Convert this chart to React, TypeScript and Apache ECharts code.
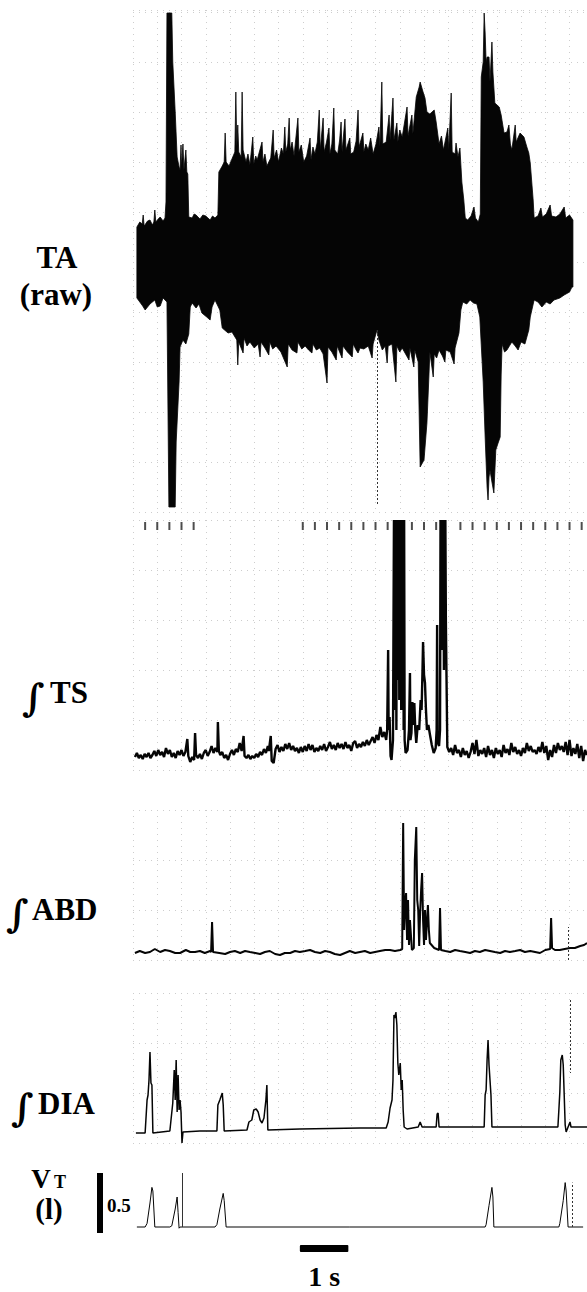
import React, { useEffect, useRef } from "react";
import * as echarts from "echarts";

// ---- time axis (seconds) ----
const T_MAX = 9.36;

// ---- TA raw EMG: upper / lower envelope (a.u., 0 = trace centre) ----
const taUpper: [number, number][] = [
  [0.08, 0], [0.08, 35], [0.14, 40], [0.19, 38], [0.21, 47], [0.23, 36], [0.3, 41], [0.35, 42], [0.4, 37], [0.43, 40], [0.45, 52], [0.47, 40], [0.52, 43], [0.56, 45], [0.62, 41], [0.66, 44],
  [0.68, 60], [0.7, 249], [0.8, 249], [0.82, 200], [0.87, 150], [0.91, 105], [0.95, 95], [0.97, 92],
  [0.99, 117], [1.0, 95], [1.03, 118], [1.05, 92], [1.09, 112], [1.11, 90], [1.13, 88], [1.15, 45],
  [1.22, 44], [1.26, 48], [1.3, 47], [1.38, 43], [1.44, 47], [1.5, 46], [1.59, 42], [1.64, 46], [1.69, 44], [1.75, 47], [1.77, 90],
  [1.84, 96], [1.88, 100], [1.9, 129], [1.92, 100], [1.98, 96], [2.04, 103], [2.1, 110], [2.12, 170], [2.14, 115], [2.16, 137], [2.18, 110], [2.23, 105], [2.25, 170], [2.27, 112], [2.33, 100], [2.37, 108], [2.41, 97], [2.47, 125], [2.49, 98], [2.53, 106], [2.56, 102], [2.66, 120], [2.68, 100], [2.72, 108], [2.76, 96], [2.84, 104], [2.89, 132], [2.91, 104], [2.96, 112], [3.0, 100], [3.06, 114], [3.1, 108], [3.13, 135], [3.15, 110], [3.19, 118], [3.22, 144], [3.24, 112], [3.28, 120], [3.32, 106], [3.4, 144], [3.42, 110], [3.47, 117], [3.52, 100], [3.58, 106], [3.65, 124], [3.67, 102], [3.71, 115], [3.75, 108], [3.8, 120], [3.84, 152], [3.86, 112], [3.92, 144], [3.94, 110], [3.99, 120], [4.04, 134], [4.06, 108], [4.1, 118], [4.14, 154], [4.16, 112], [4.22, 108], [4.26, 122], [4.29, 140], [4.31, 110], [4.37, 143], [4.39, 112], [4.43, 118], [4.47, 124], [4.49, 108], [4.55, 110], [4.6, 121], [4.64, 152], [4.66, 115], [4.7, 122], [4.74, 129], [4.76, 110], [4.8, 118], [4.85, 112], [4.9, 124], [4.95, 108], [5.01, 118], [5.07, 135], [5.09, 115], [5.13, 180], [5.15, 118], [5.22, 120], [5.28, 147], [5.3, 122], [5.36, 164], [5.38, 122], [5.44, 139], [5.46, 120], [5.5, 132], [5.55, 125], [5.65, 155], [5.67, 126], [5.75, 147], [5.77, 128], [5.84, 165], [5.9, 175], [5.92, 180], [5.98, 170], [6.02, 164], [6.06, 150], [6.12, 148], [6.21, 152], [6.25, 140], [6.31, 118], [6.36, 126], [6.4, 112], [6.49, 134], [6.51, 112], [6.56, 169], [6.58, 110], [6.64, 108], [6.66, 119], [6.7, 105], [6.74, 114], [6.78, 80], [6.82, 62], [6.85, 44], [6.9, 42], [6.97, 46], [7.03, 55], [7.06, 44], [7.12, 40], [7.16, 48],
  [7.18, 185], [7.22, 200], [7.24, 249], [7.26, 229], [7.28, 200], [7.3, 205], [7.34, 205], [7.36, 180], [7.4, 220], [7.42, 190], [7.46, 159], [7.55, 155], [7.59, 147], [7.65, 129], [7.71, 130], [7.75, 137], [7.78, 118], [7.81, 112], [7.88, 137], [7.9, 120], [7.98, 129], [8.06, 125], [8.12, 115], [8.16, 109], [8.19, 99], [8.25, 62], [8.27, 44],
  [8.35, 46], [8.41, 54], [8.44, 45], [8.52, 48], [8.6, 57], [8.63, 46], [8.72, 45], [8.8, 48], [8.89, 55], [8.92, 44], [9.0, 47], [9.07, 42], [9.07, 0],
];
const taLower: [number, number][] = [
  [0.08, 0], [0.08, -36], [0.14, -40], [0.2, -44], [0.25, -48], [0.35, -42], [0.45, -38], [0.5, -45], [0.56, -44], [0.62, -36], [0.7, -40],
  [0.74, -245], [0.87, -245], [0.89, -180], [0.95, -120], [0.97, -85], [1.03, -78], [1.09, -82], [1.15, -72], [1.18, -45],
  [1.22, -41], [1.3, -46], [1.36, -42], [1.42, -51], [1.52, -55], [1.59, -58], [1.63, -45], [1.69, -38], [1.75, -44], [1.79, -48],
  [1.84, -66], [1.96, -71], [2.04, -70], [2.14, -78], [2.16, -103], [2.18, -80], [2.27, -91], [2.29, -76], [2.35, -84], [2.41, -80], [2.5, -86], [2.58, -82], [2.62, -95], [2.64, -80], [2.72, -86], [2.8, -93], [2.82, -80], [2.88, -87], [2.95, -84], [3.05, -90], [3.18, -105], [3.2, -82], [3.28, -88], [3.38, -91], [3.4, -80], [3.48, -87], [3.55, -84], [3.62, -88], [3.69, -91], [3.71, -82], [3.78, -88], [3.85, -86], [3.92, -92], [4.0, -121], [4.02, -85], [4.1, -90], [4.19, -98], [4.21, -84], [4.26, -90], [4.31, -96], [4.33, -84], [4.42, -90], [4.52, -95], [4.54, -82], [4.6, -88], [4.64, -91], [4.68, -86], [4.76, -87], [4.85, -84], [4.93, -96], [4.95, -82], [5.03, -68], [5.07, -78], [5.14, -88], [5.2, -84], [5.24, -101], [5.26, -84], [5.34, -82], [5.42, -120], [5.44, -84], [5.5, -90], [5.55, -86], [5.62, -92], [5.69, -98], [5.71, -86], [5.79, -105], [5.81, -88], [5.88, -100],
  [5.92, -205], [6.0, -198], [6.06, -161], [6.1, -115], [6.12, -90], [6.19, -115], [6.21, -92], [6.26, -96], [6.31, -88], [6.38, -94], [6.43, -100], [6.45, -88], [6.54, -90], [6.62, -102], [6.64, -86], [6.72, -71], [6.76, -48], [6.8, -40], [6.88, -42], [6.95, -38], [7.02, -41], [7.09, -42], [7.15, -55],
  [7.22, -120], [7.26, -175], [7.3, -225], [7.32, -238], [7.34, -215], [7.36, -208], [7.4, -220], [7.44, -231], [7.48, -188], [7.52, -182], [7.57, -175], [7.59, -113], [7.61, -82], [7.66, -90], [7.71, -88], [7.76, -84], [7.81, -80], [7.88, -84], [7.94, -88], [8.0, -80], [8.08, -82], [8.16, -68], [8.19, -55], [8.27, -38],
  [8.35, -40], [8.43, -45], [8.52, -40], [8.6, -42], [8.68, -38], [8.8, -36], [8.89, -33], [9.0, -30], [9.05, -25], [9.07, -25], [9.07, 0],
];
const taEventTime = 5.03;
const taEventRange: [number, number] = [-68, -243];

// ---- integrated TS EMG (a.u.) ----
const tsTrace: [number, number][] = [
  [0.04, 13], [0.08, 17], [0.12, 12], [0.16, 15], [0.2, 11], [0.24, 16], [0.28, 13], [0.32, 17], [0.36, 12], [0.4, 15], [0.44, 19], [0.48, 14], [0.52, 20], [0.56, 15], [0.6, 18], [0.64, 13], [0.68, 22], [0.72, 16], [0.76, 20], [0.8, 13], [0.84, 17], [0.88, 12], [0.92, 19], [0.96, 15], [1.0, 20], [1.04, 14], [1.08, 18], [1.12, 31], [1.14, 14], [1.18, 8], [1.22, 13], [1.26, 10], [1.28, 37], [1.3, 15], [1.34, 12], [1.38, 16], [1.42, 11], [1.46, 17], [1.5, 20], [1.54, 14], [1.58, 18], [1.62, 24], [1.66, 17], [1.7, 22], [1.74, 18], [1.75, 48], [1.77, 19], [1.8, 15], [1.84, 18], [1.88, 12], [1.92, 15], [1.96, 10], [2.0, 16], [2.04, 20], [2.08, 15], [2.12, 21], [2.16, 18], [2.2, 27], [2.24, 19], [2.28, 34], [2.3, 14], [2.34, 12], [2.38, 15], [2.42, 11], [2.46, 14], [2.5, 12], [2.54, 16], [2.58, 13], [2.62, 18], [2.66, 15], [2.7, 21], [2.74, 17], [2.78, 24], [2.8, 19], [2.84, 34], [2.86, 9], [2.9, 7], [2.94, 21], [2.98, 25], [3.02, 18], [3.06, 23], [3.1, 19], [3.14, 26], [3.18, 21], [3.22, 27], [3.26, 20], [3.3, 24], [3.34, 19], [3.38, 22], [3.42, 17], [3.46, 23], [3.5, 18], [3.54, 24], [3.58, 19], [3.62, 26], [3.66, 20], [3.7, 25], [3.74, 18], [3.78, 22], [3.82, 19], [3.86, 24], [3.9, 20], [3.94, 26], [3.98, 19], [4.02, 23], [4.06, 28], [4.1, 21], [4.14, 25], [4.18, 20], [4.22, 27], [4.26, 22], [4.3, 26], [4.34, 21], [4.38, 28], [4.42, 22], [4.46, 25], [4.5, 19], [4.54, 27], [4.58, 29], [4.62, 22], [4.66, 26], [4.7, 23], [4.74, 28], [4.78, 24], [4.82, 30], [4.86, 25], [4.9, 29], [4.94, 33], [4.98, 27], [5.02, 35], [5.06, 30], [5.1, 43], [5.14, 33], [5.18, 38], [5.22, 30], [5.24, 40], [5.26, 120], [5.27, 40], [5.29, 53], [5.31, 14], [5.33, 10], [5.36, 30],
  [5.38, 250], [5.39, 60], [5.4, 250], [5.41, 110], [5.42, 250], [5.43, 40], [5.44, 250], [5.45, 90], [5.46, 250], [5.47, 130], [5.48, 250], [5.49, 70], [5.5, 250], [5.51, 150], [5.52, 250], [5.53, 60], [5.54, 250], [5.55, 250], [5.56, 120], [5.57, 250], [5.58, 40], [5.59, 250], [5.6, 30], [5.62, 17],
  [5.66, 20], [5.69, 40], [5.71, 97], [5.72, 30], [5.74, 37], [5.76, 68], [5.78, 45], [5.8, 67], [5.82, 40], [5.84, 27], [5.87, 45], [5.9, 40], [5.93, 70], [5.95, 60], [5.97, 103], [5.98, 128], [6.0, 95], [6.02, 87], [6.04, 60], [6.06, 40], [6.09, 45], [6.12, 36], [6.16, 25], [6.2, 17], [6.24, 22], [6.26, 40], [6.27, 145], [6.28, 28], [6.31, 24], [6.33, 40], [6.34, 250], [6.35, 150], [6.36, 250], [6.37, 120], [6.38, 250], [6.39, 180], [6.4, 250], [6.41, 100], [6.42, 250], [6.43, 200], [6.44, 250], [6.45, 150], [6.46, 107], [6.48, 23],
  [6.52, 18], [6.56, 22], [6.6, 15], [6.64, 25], [6.68, 17], [6.72, 20], [6.76, 13], [6.8, 22], [6.84, 15], [6.88, 19], [6.92, 12], [6.96, 18], [7.0, 27], [7.04, 16], [7.08, 30], [7.12, 14], [7.16, 20], [7.2, 16], [7.24, 22], [7.28, 13], [7.32, 24], [7.36, 15], [7.4, 20], [7.44, 12], [7.48, 22], [7.52, 16], [7.56, 20], [7.6, 13], [7.64, 25], [7.68, 17], [7.72, 21], [7.76, 15], [7.8, 27], [7.84, 18], [7.88, 23], [7.92, 16], [7.96, 20], [8.0, 14], [8.04, 22], [8.08, 17], [8.12, 27], [8.16, 19], [8.2, 24], [8.24, 18], [8.28, 20], [8.32, 16], [8.36, 23], [8.4, 18], [8.44, 28], [8.48, 17], [8.52, 24], [8.56, 10], [8.6, 20], [8.64, 13], [8.68, 25], [8.72, 17], [8.76, 27], [8.8, 20], [8.84, 24], [8.88, 18], [8.92, 28], [8.96, 15], [9.0, 30], [9.04, 14], [9.08, 22], [9.12, 16], [9.16, 26], [9.2, 12], [9.24, 24], [9.28, 9], [9.32, 20], [9.36, 15],
];
const tsMarkerTimes = [0.25, 0.5, 0.75, 1.0, 1.25, 3.5, 3.75, 4.0, 4.25, 4.5, 4.75, 5.0, 5.25, 5.75, 6.0, 6.25, 6.75, 7.0, 7.25, 7.5, 7.75, 8.0, 8.25, 8.5, 8.75, 9.0, 9.25];

// ---- integrated ABD EMG (a.u.) ----
const abdTrace: [number, number][] = [
  [0.04, 7], [0.14, 9], [0.25, 7], [0.35, 8], [0.45, 11], [0.56, 8], [0.66, 10], [0.76, 9], [0.87, 7], [0.97, 7], [1.09, 10], [1.18, 8], [1.28, 8], [1.38, 9], [1.48, 7], [1.59, 9], [1.61, 8], [1.63, 38], [1.65, 8], [1.78, 7], [1.9, 6], [2.0, 8], [2.1, 9], [2.21, 7], [2.31, 9], [2.41, 8], [2.52, 7], [2.62, 6], [2.72, 8], [2.82, 9], [2.93, 6], [3.03, 5], [3.13, 7], [3.24, 7], [3.34, 9], [3.44, 8], [3.55, 9], [3.65, 10], [3.75, 8], [3.86, 7], [3.96, 9], [4.06, 8], [4.16, 6], [4.27, 5], [4.37, 7], [4.47, 9], [4.58, 7], [4.68, 8], [4.78, 9], [4.89, 7], [4.99, 8], [5.09, 9], [5.2, 10], [5.3, 10], [5.4, 9], [5.51, 10], [5.55, 11],
  [5.57, 137], [5.59, 30], [5.61, 55], [5.63, 67], [5.65, 20], [5.67, 60], [5.69, 15], [5.71, 40], [5.75, 10], [5.79, 12], [5.81, 100], [5.84, 133], [5.86, 60], [5.88, 50], [5.9, 14], [5.92, 48], [5.94, 70], [5.96, 87], [5.98, 40], [6.0, 15], [6.02, 50], [6.04, 20], [6.08, 55], [6.1, 30], [6.12, 17], [6.21, 12], [6.31, 10], [6.33, 52], [6.35, 10],
  [6.44, 9], [6.54, 8], [6.64, 10], [6.74, 9], [6.85, 8], [6.95, 7], [7.05, 9], [7.15, 8], [7.26, 10], [7.36, 9], [7.46, 8], [7.57, 7], [7.67, 9], [7.77, 8], [7.88, 9], [7.98, 10], [8.08, 8], [8.19, 9], [8.29, 8], [8.39, 7], [8.5, 10], [8.6, 11], [8.62, 42], [8.64, 12], [8.7, 10], [8.8, 10], [8.9, 11], [9.01, 12], [9.11, 12], [9.22, 14], [9.3, 15], [9.36, 17],
];
const abdEventTime = 8.97;
const abdEventRange: [number, number] = [0, 33];

// ---- integrated DIA EMG (a.u.) ----
const diaTrace: [number, number][] = [
  [0.06, 10], [0.25, 10], [0.29, 43], [0.31, 48], [0.33, 63], [0.35, 91], [0.37, 60], [0.39, 58], [0.41, 10],
  [0.76, 12], [0.82, 40], [0.85, 73], [0.87, 43], [0.89, 83], [0.91, 31], [0.93, 68], [0.95, 33], [0.97, 43], [0.99, 31], [1.01, 0], [1.03, 11],
  [1.38, 12], [1.73, 12], [1.75, 38], [1.79, 43], [1.84, 50], [1.86, 38], [1.88, 12],
  [2.35, 13], [2.39, 21], [2.45, 23], [2.49, 33], [2.54, 34], [2.58, 31], [2.62, 23], [2.66, 20], [2.7, 25], [2.74, 43], [2.76, 58], [2.78, 13],
  [3.44, 14], [4.68, 15], [5.22, 15], [5.26, 21], [5.3, 35], [5.34, 43], [5.36, 63], [5.38, 128], [5.4, 125], [5.42, 131], [5.44, 118], [5.46, 80], [5.48, 68], [5.51, 80], [5.53, 53], [5.55, 63], [5.57, 33], [5.59, 16],
  [5.65, 14], [5.88, 16], [5.92, 21], [5.96, 16], [6.25, 16], [6.27, 29], [6.29, 30], [6.31, 16],
  [7.24, 16], [7.26, 48], [7.28, 53], [7.3, 83], [7.32, 103], [7.34, 78], [7.36, 63], [7.38, 48], [7.4, 16],
  [8.76, 16], [8.78, 33], [8.8, 51], [8.82, 83], [8.85, 88], [8.87, 78], [8.89, 48], [8.91, 18], [8.93, 11], [8.97, 16], [9.01, 21], [9.03, 16], [9.36, 16],
];
const diaEventTime = 9.01;
const diaEventRange: [number, number] = [143, 70];

// ---- tidal volume (litres) ----
const vtTrace: [number, number][] = [
  [0.08, 0], [0.25, 0], [0.29, 0.03], [0.35, 0.2], [0.39, 0.33], [0.41, 0.3], [0.45, 0],
  [0.76, 0], [0.8, 0.01], [0.87, 0.15], [0.91, 0.25], [0.93, 0.12], [0.95, -0.01], [0.97, 0],
  [1.69, 0], [1.73, 0.02], [1.79, 0.15], [1.86, 0.28], [1.88, 0.22], [1.92, 0],
  [4.47, 0], [7.26, 0], [7.28, 0.02], [7.34, 0.18], [7.4, 0.33], [7.42, 0.25], [7.44, 0],
  [8.78, 0], [8.8, 0.03], [8.87, 0.22], [8.91, 0.37], [8.93, 0.3], [8.97, 0], [9.28, 0],
];
const vtEvents: { t: number; range: [number, number]; dashed: boolean }[] = [
  { t: 1.01, range: [0, 0.45], dashed: false },
  { t: 9.05, range: [0, 0.37], dashed: true },
];

// ---- scale bars ----
const volumeBarLitres = 0.5;
const volumeBarBase = -0.05;
const timeBarStart = 3.44;
const timeBarSeconds = 1;

// ---- label fonts ----
const FONT = '"Liberation Serif", "Times New Roman", serif';
const INT_FONT = '"DejaVu Serif", serif';

export default function App() {
  const ref = useRef<HTMLDivElement>(null);

  useEffect(() => {
    const chart = echarts.init(ref.current!, null, { renderer: "svg" });
    const grid = [
      { left: 133, right: 0, top: 10, height: 502 },
      { left: 133, right: 0, top: 520, height: 250 },
      { left: 133, right: 0, top: 810, height: 150 },
      { left: 133, right: 0, top: 993, height: 150 },
      { left: 133, right: 0, top: 1143, height: 90 },
    ];
    const dotted = { show: true, lineStyle: { color: "#cdcdcd", type: [1, 5] as any, width: 1 } };
    const hidden = { axisLine: { show: false }, axisTick: { show: false }, axisLabel: { show: false } };
    const xAxis = grid.map((_, i) => ({
      type: "value", gridIndex: i, min: 0, max: T_MAX, interval: 0.5, ...hidden,
      splitLine: i < 4 ? dotted : { show: false },
    }));
    const yRanges = [
      { min: -250, max: 252, interval: 50 },
      { min: 0, max: 250, interval: 50 },
      { min: 0, max: 150, interval: 50 },
      { min: 0, max: 150, interval: 50 },
      { min: -0.05, max: 0.7, interval: 0.05 },
    ];
    const yAxis = yRanges.map((r, i) => ({
      type: "value", gridIndex: i, ...r, ...hidden,
      splitLine: i < 4 ? dotted : { show: false },
    }));
    const ink = "#050505";
    const lineBase = (i: number, data: any, width: number) => ({
      type: "line", xAxisIndex: i, yAxisIndex: i, data, showSymbol: false, symbol: "none",
      lineStyle: { color: ink, width }, silent: true,
    });
    const eventLine = (t: number, r: [number, number], dashed: boolean) => ({
      symbol: "none", silent: true, label: { show: false },
      lineStyle: { color: "#333", width: 1, type: dashed ? [2, 2] : "solid" },
      data: [[{ coord: [t, r[0]] }, { coord: [t, r[1]] }]],
    });

    const series: any[] = [
      { ...lineBase(0, taUpper, 0.8), areaStyle: { color: ink, opacity: 1, origin: "auto" },
        markLine: eventLine(taEventTime, taEventRange, true) },
      { ...lineBase(0, taLower, 0.8), areaStyle: { color: ink, opacity: 1, origin: "auto" } },
      lineBase(1, tsTrace, 2.4),
      { type: "scatter", xAxisIndex: 1, yAxisIndex: 1, symbol: "rect", symbolSize: [2, 8],
        itemStyle: { color: "#222" }, data: tsMarkerTimes.map((t) => [t, 244]), silent: true },
      { ...lineBase(2, abdTrace, 2), markLine: eventLine(abdEventTime, abdEventRange, true) },
      { ...lineBase(3, diaTrace, 1.5), markLine: eventLine(diaEventTime, diaEventRange, true) },
      { ...lineBase(4, vtTrace, 1), markLine: {
          symbol: "none", silent: true, label: { show: false },
          data: vtEvents.map((e) => [
            { coord: [e.t, e.range[0]], lineStyle: { color: "#333", width: 1, type: e.dashed ? [2, 2] : "solid" } },
            { coord: [e.t, e.range[1]] },
          ]),
        } },
    ];

    chart.setOption({ animation: false, grid, xAxis, yAxis, series });

    const vb0 = chart.convertToPixel({ gridIndex: 4 }, [0, volumeBarBase]) as number[];
    const vb1 = chart.convertToPixel({ gridIndex: 4 }, [0, volumeBarBase + volumeBarLitres]) as number[];
    const tb0 = chart.convertToPixel({ gridIndex: 4 }, [timeBarStart, 0]) as number[];
    const tb1 = chart.convertToPixel({ gridIndex: 4 }, [timeBarStart + timeBarSeconds, 0]) as number[];

    const txt = (text: string, x: number, y: number, size: number, align = "center", font = FONT) => ({
      type: "text", silent: true,
      style: { text, x, y, fill: "#000", font: `bold ${size}px ${font}`, textAlign: align, textVerticalAlign: "middle" },
    });

    chart.setOption({
      graphic: [
        txt("TA", 57, 257, 31),
        txt("(raw)", 56, 294, 31),
        txt("\u222B", 33, 697, 38, "center", INT_FONT),
        txt("TS", 50, 692, 31, "left"),
        txt("\u222B", 17, 913, 38, "center", INT_FONT),
        txt("ABD", 32, 909, 31, "left"),
        txt("\u222B", 22, 1107, 38, "center", INT_FONT),
        txt("DIA", 38, 1103, 31, "left"),
        txt("V", 41, 1179, 27),
        txt("T", 60, 1182, 18),
        txt("(l)", 49, 1209, 29),
        txt("0.5", 107, 1205, 19, "left"),
        { type: "rect", silent: true, shape: { x: 97, y: vb1[1], width: 6, height: vb0[1] - vb1[1] }, style: { fill: "#000" } },
        { type: "rect", silent: true, shape: { x: tb0[0], y: 1245, width: tb1[0] - tb0[0], height: 7, r: 1 }, style: { fill: "#000" } },
        txt("1 s", (tb0[0] + tb1[0]) / 2, 1276, 28),
      ],
    });

    return () => chart.dispose();
  }, []);

  return <div ref={ref} style={{ position: "absolute", left: 0, top: 0, width: 587, height: 1292, background: "#fff" }} />;
}
